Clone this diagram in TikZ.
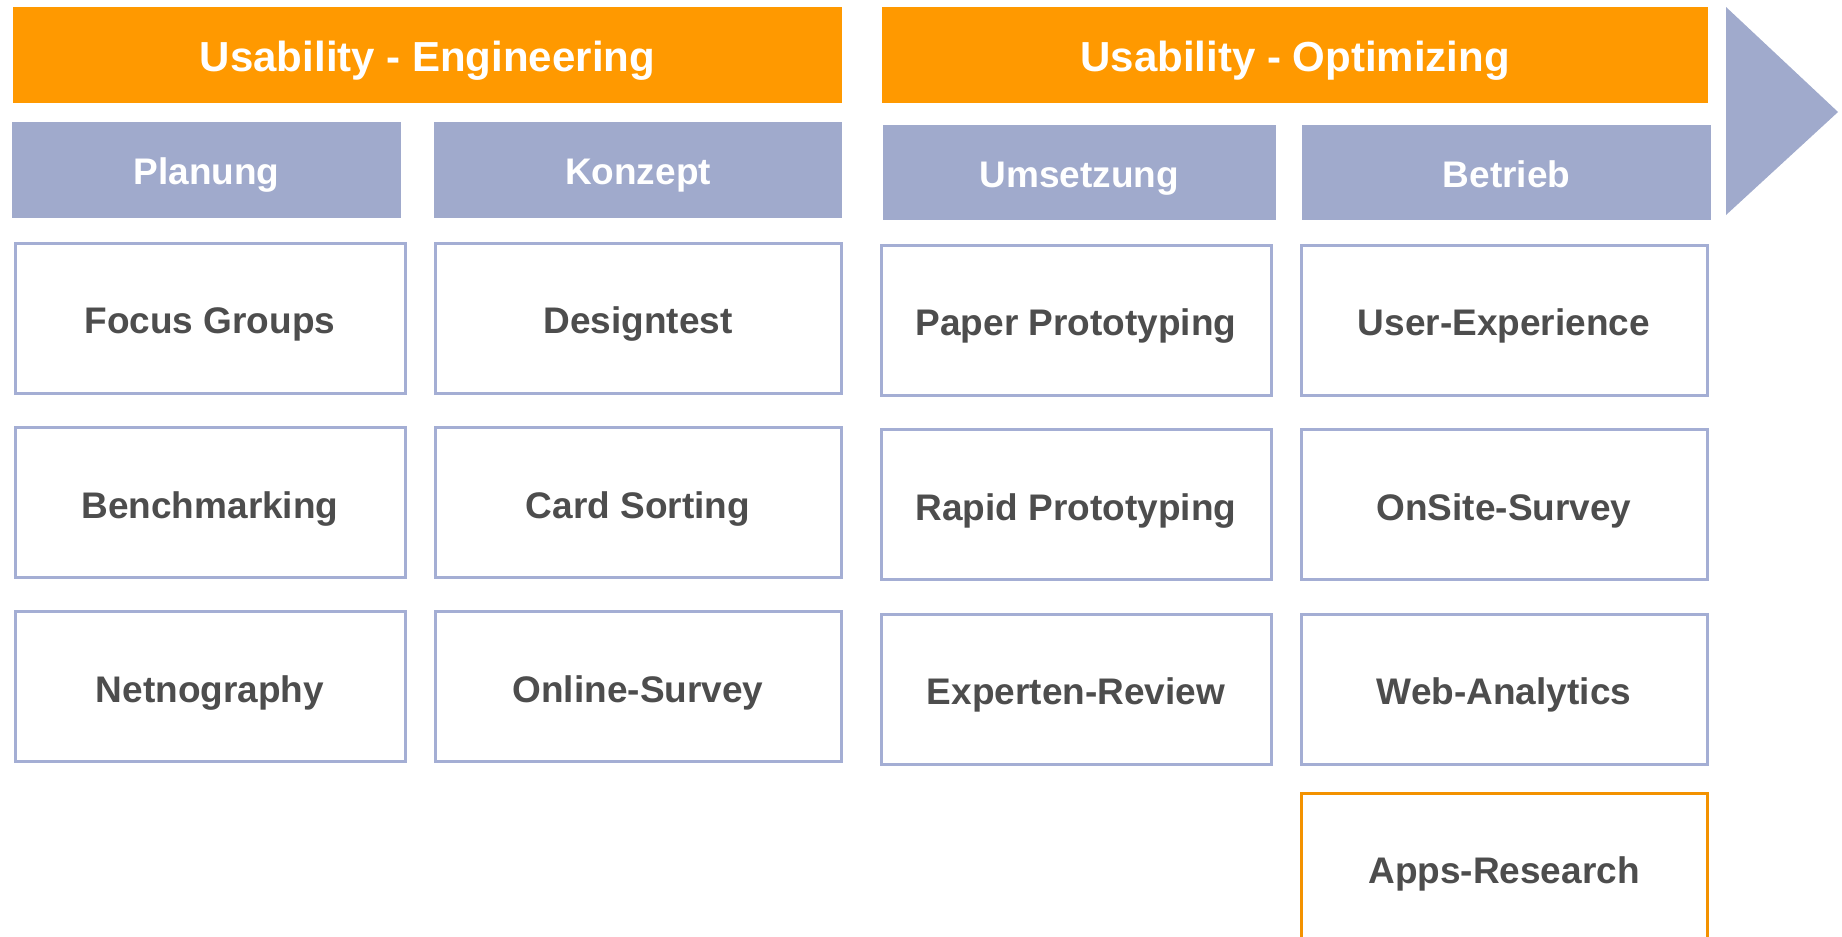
\documentclass[tikz,border=0pt]{standalone}
\usepackage{fontspec}
\setmainfont{Liberation Sans}
\definecolor{orng}{RGB}{255,153,0}
\definecolor{hdr}{RGB}{160,170,204}
\definecolor{brd}{RGB}{164,174,212}
\definecolor{txt}{RGB}{77,77,77}
\definecolor{orbrd}{RGB}{243,146,0}
\begin{document}
\begin{tikzpicture}[x=1pt,y=-1pt,
  phase/.style={fill=orng,draw=none,inner sep=0pt,text=white,
    font=\fontsize{42}{50}\selectfont\bfseries,text height=32pt,text depth=0pt,minimum height=96pt},
  stage/.style={fill=hdr,draw=none,inner sep=0pt,text=white,
    font=\fontsize{37}{44}\selectfont\bfseries,text height=29pt,text depth=0pt,minimum height=96pt},
  item/.style={fill=white,draw=brd,line width=3pt,inner sep=0pt,text=txt,
    font=\fontsize{37}{44}\selectfont\bfseries,text height=31pt,text depth=0pt,minimum height=150pt},
  narrow/.style={minimum width=390pt},
  wide/.style={minimum width=406pt}]
\useasboundingbox (0,0) rectangle (1842,937);
\clip (0,0) rectangle (1842,937);
\fill[white] (0,0) rectangle (1842,937);
% phases
\node[phase,minimum width=829pt] (eng) at (427.5,55) {Usability - Engineering};
\node[phase,minimum width=826pt] (opt) at (1295,55) {Usability - Optimizing};
% arrow
\fill[hdr] (1726,7) -- (1838,112) -- (1726,215) -- cycle;
% stages
\node[stage,minimum width=389pt] (plan) at (206.5,170) {Planung};
\node[stage,minimum width=408pt] (konz) at (638,170) {Konzept};
\node[stage,minimum width=393pt,minimum height=95pt] (ums) at (1079.5,172.5) {Umsetzung};
\node[stage,minimum width=409pt,minimum height=95pt] (betr) at (1506.5,172.5) {Betrieb};
% column 1
\node[item,narrow] (fg) at (210,318) {Focus Groups};
\node[item,narrow] (bm) at (210,502.5) {Benchmarking};
\node[item,narrow] (ng) at (210,686.5) {Netnography};
% column 2
\node[item,wide] (dt) at (638,318) {Designtest};
\node[item,wide] (cs) at (638,502.5) {Card Sorting};
\node[item,wide] (os) at (638,686.5) {Online-Survey};
% column 3
\node[item,narrow] (pp) at (1076,320) {Paper Prototyping};
\node[item,narrow] (rp) at (1076,504.5) {Rapid Prototyping};
\node[item,narrow] (er) at (1076,689) {Experten-Review};
% column 4
\node[item,wide] (ux) at (1504,320) {User-Experience};
\node[item,wide] (oss) at (1504,504.5) {OnSite-Survey};
\node[item,wide] (wa) at (1504,689) {Web-Analytics};
\node[item,wide,draw=orbrd] (ar) at (1504,868) {Apps-Research};
\end{tikzpicture}
\end{document}
